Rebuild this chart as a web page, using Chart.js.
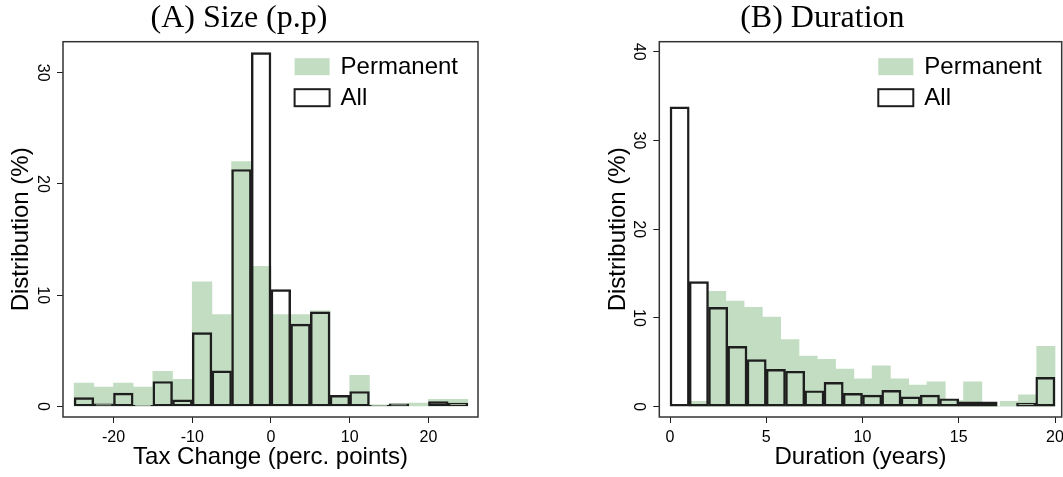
<!DOCTYPE html>
<html><head><meta charset="utf-8">
<script src="https://cdn.jsdelivr.net/npm/chart.js@4.4.1/dist/chart.umd.min.js"></script>
<style>
html,body{margin:0;padding:0;background:#fff;}
body{width:1063px;height:477px;overflow:hidden;position:relative;}
canvas{position:absolute;top:0;}
#cA{left:0;}
#cB{left:583px;}
</style></head><body>
<canvas id="cA" width="488" height="477"></canvas>
<canvas id="cB" width="491" height="477"></canvas>
<script>
// ---------- data ----------
const seriesLabels = ['Permanent', 'All'];

// Panel A: tax change size, bins of 2.5 p.p.
const sizeBinCenters = [-23.75,-21.25,-18.75,-16.25,-13.75,-11.25,-8.75,-6.25,-3.75,-1.25,1.25,3.75,6.25,8.75,11.25,13.75,16.25,18.75,21.25,23.75];
const sizePermanent  = [2.1,1.75,2.1,1.75,3.15,2.45,11.2,8.25,22.0,12.6,8.25,8.25,8.6,1.0,2.8,0.15,0.25,0.3,0.65,0.65];
const sizeAll        = [0.8,0.25,1.2,0.1,2.25,0.6,6.65,3.2,21.3,31.8,10.5,7.4,8.5,1.0,1.35,0.1,0.25,0,0.45,0.3];
const sizeXTicks = [-20,-10,0,10,20];
const sizeYTicks = [0,10,20,30];

// Panel B: duration in years
const durAllBinCenters  = [0.5,1.5,2.5,3.5,4.5,5.5,6.5,7.5,8.5,9.5,10.5,11.5,12.5,13.5,14.5,15.5,16.5,17.5,18.5,19.5];
const durAll            = [33.8,14.1,11.2,6.8,5.3,4.2,4.0,1.8,2.75,1.5,1.3,1.85,1.1,1.3,0.9,0.55,0.55,0,0.4,3.3];
const durPermBinCenters = [1.475,2.425,3.375,4.325,5.275,6.225,7.175,8.125,9.075,10.025,10.975,11.925,12.875,13.825,14.775,15.725,16.675,17.625,18.575,19.525];
const durPermanent      = [0.6,13.0,11.9,11.2,10.1,7.55,5.7,5.35,4.25,3.15,4.6,3.15,2.45,2.8,0.7,2.8,0,0.6,1.35,6.8];
const durXTicks = [0,5,10,15,20];
const durYTicks = [0,10,20,30,40];

// ---------- styles ----------
const GREEN = 'rgb(194,221,194)';
const INK = '#1e1e1e';
const SANS = '"Liberation Sans", Arial, Helvetica, sans-serif';
const SERIF = '"Liberation Serif", "DejaVu Serif", serif';

const framePlugin = {
  id: 'frame',
  afterDraw(chart) {
    const {ctx, chartArea: a} = chart;
    ctx.save();
    ctx.strokeStyle = '#333';
    ctx.lineWidth = 1.5;
    ctx.strokeRect(a.left, a.top, a.right - a.left, a.bottom - a.top);
    ctx.restore();
  }
};

const boxLegend = {
  id: 'boxLegend',
  afterDraw(chart, args, opts) {
    const {ctx, chartArea: a} = chart;
    ctx.save();
    ctx.font = '24px ' + SANS;
    ctx.textBaseline = 'middle';
    ctx.textAlign = 'left';
    const ds = chart.data.datasets;
    const maxW = Math.max(...ds.map(d => ctx.measureText(d.label).width));
    const textX = a.right - opts.rightGap - maxW;
    const boxW = 35, boxH = 17, gap = 11;
    ds.forEach((d, i) => {
      const cy = a.top + opts.rowTop + i * opts.rowStep;
      const bx = textX - gap - boxW;
      const by = cy - boxH / 2 - 1;
      if (d.borderWidth > 0) {
        ctx.fillStyle = '#fff';
        ctx.fillRect(bx, by, boxW, boxH);
        ctx.strokeStyle = d.borderColor;
        ctx.lineWidth = 2;
        ctx.strokeRect(bx, by, boxW, boxH);
      } else {
        ctx.fillStyle = d.backgroundColor;
        ctx.fillRect(bx, by, boxW, boxH);
      }
      ctx.fillStyle = '#000';
      ctx.fillText(d.label, textX, cy);
    });
    ctx.restore();
  }
};

function xAxis(min, max, ticks, title, display) {
  return {
    type: 'linear', position: 'bottom', display: display,
    offset: false,
    min: min, max: max,
    afterBuildTicks: s => { s.ticks = ticks.map(v => ({value: v})); },
    afterFit: s => { if (display) s.height = 60; },
    ticks: {font: {family: SANS, size: 16}, color: '#000', padding: 5, maxRotation: 0, autoSkip: false},
    grid: {display: true, offset: false, drawOnChartArea: false, drawTicks: true, tickLength: 6, color: INK, lineWidth: 1},
    border: {display: false},
    title: {display: !!title, text: title, color: '#000', font: {family: SANS, size: 24, lineHeight: 1}, padding: {top: 0, bottom: 7.5}}
  };
}
function yAxis(min, max, ticks, width, titlePad) {
  return {
    type: 'linear', position: 'left',
    min: min, max: max,
    afterBuildTicks: s => { s.ticks = ticks.map(v => ({value: v})); },
    afterFit: s => { s.width = width; },
    ticks: {font: {family: SANS, size: 16}, color: '#000', padding: 5.5, minRotation: -90, maxRotation: -90, crossAlign: 'center'},
    grid: {display: true, offset: false, drawOnChartArea: false, drawTicks: true, tickLength: 6, color: INK, lineWidth: 1},
    border: {display: false},
    title: {display: true, text: 'Distribution (%)', color: '#000', font: {family: SANS, size: 24, lineHeight: 1}, padding: {top: titlePad, bottom: 0}}
  };
}
function pts(xs, ys) { return xs.map((x, i) => ({x: x, y: ys[i]})); }

function commonOpts(titleText, padRight) {
  return {
    responsive: false, animation: false, devicePixelRatio: 1,
    layout: {padding: {left: 0, right: padRight, top: 0, bottom: 0}},
    plugins: {
      legend: {display: false}, tooltip: {enabled: false},
      title: {display: true, text: titleText, color: '#000', font: {family: SERIF, size: 32, weight: 'normal', lineHeight: 1}, padding: {top: 3, bottom: 6.7}},
      boxLegend: {rightGap: 20, rowTop: 26, rowStep: 31}
    }
  };
}

// ---------- Panel A ----------
const optA = commonOpts('(A) Size (p.p)', 10);
optA.scales = {
  x: xAxis(-26.41, 26.29, sizeXTicks, 'Tax Change (perc. points)', true),
  y: yAxis(-0.943, 32.78, sizeYTicks, 63, 9.7)
};
new Chart(document.getElementById('cA'), {
  type: 'bar',
  data: {datasets: [
    {label: seriesLabels[0], data: pts(sizeBinCenters, sizePermanent), backgroundColor: GREEN, borderWidth: 0, order: 1,
     grouped: false, barPercentage: 1, categoryPercentage: 1, xAxisID: 'x'},
    {label: seriesLabels[1], data: pts(sizeBinCenters, sizeAll), backgroundColor: 'rgba(0,0,0,0)', borderColor: INK, borderWidth: 1.8, borderSkipped: false, order: 0,
     grouped: false, barPercentage: 1, categoryPercentage: 1, xAxisID: 'x'}
  ]},
  options: optA,
  plugins: [framePlugin, boxLegend]
});

// ---------- Panel B ----------
const optB = commonOpts('(B) Duration', 12.3);
optB.scales = {
  x: xAxis(-0.556, 20.348, durXTicks, 'Duration (years)', true),
  x2: xAxis(-0.556, 20.348, durXTicks, '', false),
  y: yAxis(-1.16, 41.13, durYTicks, 76.3, 23)
};
new Chart(document.getElementById('cB'), {
  type: 'bar',
  data: {datasets: [
    {label: seriesLabels[0], data: pts(durPermBinCenters, durPermanent), backgroundColor: GREEN, borderWidth: 0, order: 1,
     grouped: false, barPercentage: 1, categoryPercentage: 1, xAxisID: 'x2'},
    {label: seriesLabels[1], data: pts(durAllBinCenters, durAll), backgroundColor: 'rgba(0,0,0,0)', borderColor: INK, borderWidth: 1.8, borderSkipped: false, order: 0,
     grouped: false, barPercentage: 1, categoryPercentage: 1, xAxisID: 'x'}
  ]},
  options: optB,
  plugins: [framePlugin, boxLegend]
});
</script>
</body></html>
